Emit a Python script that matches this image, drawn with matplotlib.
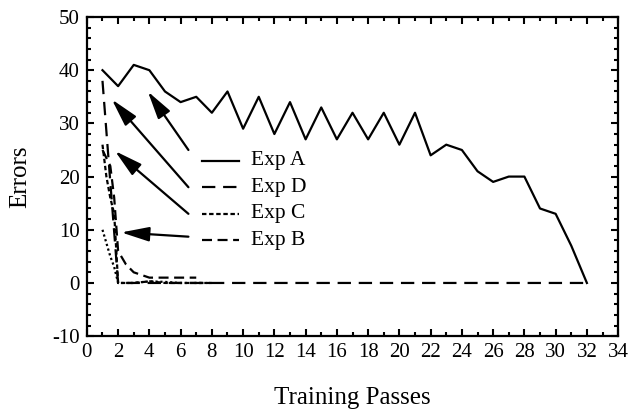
import numpy as np
import matplotlib
matplotlib.use('Agg')
import matplotlib.pyplot as plt

# training passes / errors
passes_a = list(range(1, 33))
errors_a = [40, 37, 41, 40, 36, 34, 35, 32, 36, 29, 35, 28, 34, 27, 33, 27,
            32, 27, 32, 26, 32, 24, 26, 25, 21, 19, 20, 20, 14, 13, 7, 0]

passes_d = [1, 2] + list(range(3, 33))
errors_d = [38, 0] + [0] * 30

passes_c = [1, 1.25, 1.5, 1.75, 2, 3, 4, 5, 6, 7, 8]
errors_c = [26, 20, 16, 13, 0, 0, 0.3, 0, 0, 0, 0]

passes_b = [1, 1.5, 1.75, 2, 2.5, 3, 4, 5, 6, 7]
errors_b = [25, 22, 16, 6, 3.5, 2, 1, 1, 1, 1]

passes_e = [1, 1.5, 1.75, 2, 3, 4, 5, 6, 7, 8]
errors_e = [10, 5, 3, 0, 0, 0.3, 0.2, 0, 0, 0]

labels = ['Exp A', 'Exp D', 'Exp C', 'Exp B']
styles = ['-', (0, (6, 3.5)), (0, (2, 1.2)), (0, (4.5, 2.5))]
label_y = [23, 18, 13, 8]
arrow_tail = [(6.5, 25), (6.5, 18), (6.5, 13), (6.5, 8.7)]
arrow_head = [(3.9, 36), (1.6, 34.5), (1.8, 24.8), (2.2, 9.5)]

plt.rcParams['font.family'] = ['Liberation Serif', 'DejaVu Serif']
plt.rcParams['axes.unicode_minus'] = False

fig = plt.figure(figsize=(6.34, 4.15), dpi=100)
ax = fig.add_axes([0.137, 0.19, 0.838, 0.769])

ax.plot(passes_a, errors_a, color='k', lw=1.6, ls=styles[0])
ax.plot(passes_d, errors_d, color='k', lw=1.6, ls=styles[1])
ax.plot(passes_c, errors_c, color='k', lw=1.6, ls=styles[2])
ax.plot(passes_b, errors_b, color='k', lw=1.6, ls=styles[3])
ax.plot(passes_e, errors_e, color='k', lw=1.6, ls=(0, (1, 1.2)))

# hand made legend with arrows
for i in range(len(labels)):
    ax.plot([7.4, 9.75], [label_y[i], label_y[i]], color='k', lw=1.6, ls=styles[i])
    ax.text(10.5, label_y[i], labels[i], fontsize=15.5, va='center', ha='left')
    ax.annotate('', xy=arrow_head[i], xytext=arrow_tail[i],
                arrowprops=dict(arrowstyle='-|>,head_length=0.85,head_width=0.22',
                                color='k', lw=1.6,
                                mutation_scale=20, shrinkA=0, shrinkB=0))

ax.set_xlim(0, 34)
ax.set_ylim(-10, 50)
ax.set_xticks(range(0, 35, 2))
ax.set_xticks(range(0, 35, 1), minor=True)
ax.set_yticks(range(-10, 51, 10))
ax.set_yticks(range(-10, 51, 2), minor=True)
ax.tick_params(which='both', direction='in', top=True, right=True, width=1.5)
ax.tick_params(which='major', length=5, labelsize=15, pad=5)
ax.tick_params(which='minor', length=3)
for s in ax.spines.values():
    s.set_linewidth(1.6)

ax.set_xlabel('Training Passes', fontsize=18, labelpad=18)
ax.set_ylabel('Errors', fontsize=18, labelpad=15)

fig.savefig('out.png', dpi=100)
